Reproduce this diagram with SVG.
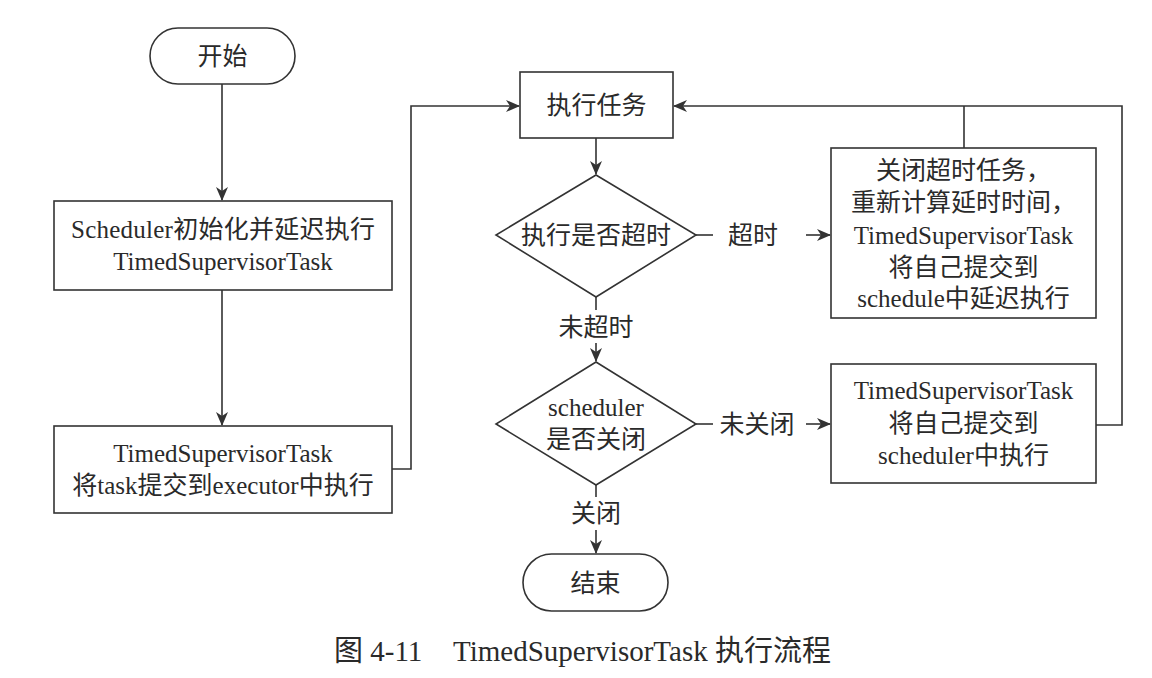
<svg xmlns="http://www.w3.org/2000/svg" width="1152" height="678" viewBox="0 0 1152 678">
  <style>
    .shape { fill: #ffffff; stroke: #333333; stroke-width: 1.6; }
    .line { fill: none; stroke: #333333; stroke-width: 1.6; }
    .t { font-family: "Liberation Serif", "Noto Sans CJK SC", serif; font-size: 25px; fill: #2a2a2a; text-anchor: middle; dominant-baseline: central; }
    .cap { font-family: "Liberation Serif", "Noto Sans CJK SC", serif; font-size: 29px; fill: #2a2a2a; dominant-baseline: central; }
  </style>
  <defs>
    <marker id="arr" viewBox="0 0 14 12" refX="13" refY="6" markerWidth="14" markerHeight="12" markerUnits="userSpaceOnUse" orient="auto">
      <path d="M0,0 L14,6 L0,12 L4,6 Z" fill="#333333"/>
    </marker>
  </defs>
  <rect x="0" y="0" width="1152" height="678" fill="#ffffff"/>

  <g id="connectors">
    <line class="line" x1="222" y1="84" x2="222" y2="200" marker-end="url(#arr)"/>
    <line class="line" x1="222" y1="290" x2="222" y2="425" marker-end="url(#arr)"/>
    <polyline class="line" points="392,469 411,469 411,106 519,106" marker-end="url(#arr)"/>
    <line class="line" x1="596" y1="138" x2="596" y2="174" marker-end="url(#arr)"/>
    <line class="line" x1="696" y1="235" x2="713" y2="235"/>
    <line class="line" x1="806" y1="235" x2="830" y2="235" marker-end="url(#arr)"/>
    <line class="line" x1="596" y1="297" x2="596" y2="310"/>
    <line class="line" x1="596" y1="343" x2="596" y2="361" marker-end="url(#arr)"/>
    <line class="line" x1="696" y1="424" x2="713" y2="424"/>
    <line class="line" x1="806" y1="424" x2="830" y2="424" marker-end="url(#arr)"/>
    <line class="line" x1="596" y1="485" x2="596" y2="497"/>
    <line class="line" x1="596" y1="530" x2="596" y2="553" marker-end="url(#arr)"/>
    <line class="line" x1="964" y1="148" x2="964" y2="106"/>
    <polyline class="line" points="1096,425 1122,425 1122,106 674,106" marker-end="url(#arr)"/>
    <text class="t" x="753" y="235">超时</text>
    <text class="t" x="596" y="327">未超时</text>
    <text class="t" x="757" y="424">未关闭</text>
    <text class="t" x="596" y="513">关闭</text>
  </g>

  <g id="start">
    <rect class="shape" x="150" y="28" width="145" height="56" rx="28" ry="28"/>
    <text class="t" x="222.5" y="56">开始</text>
  </g>

  <g id="init">
    <rect class="shape" x="54" y="201" width="338" height="89"/>
    <text class="t" x="223" y="229" textLength="304" lengthAdjust="spacing">Scheduler初始化并延迟执行</text>
    <text class="t" x="223" y="261">TimedSupervisorTask</text>
  </g>

  <g id="submit">
    <rect class="shape" x="54" y="426" width="338" height="87"/>
    <text class="t" x="223" y="453">TimedSupervisorTask</text>
    <text class="t" x="223" y="485">将task提交到executor中执行</text>
  </g>

  <g id="execute">
    <rect class="shape" x="520" y="72" width="153" height="66"/>
    <text class="t" x="596.5" y="105">执行任务</text>
  </g>

  <g id="timeout-check">
    <polygon class="shape" points="596,175 696,235 596,297 496,235"/>
    <text class="t" x="596" y="235">执行是否超时</text>
  </g>

  <g id="closed-check">
    <polygon class="shape" points="596,362 696,424 596,485 496,424"/>
    <text class="t" x="596" y="407">scheduler</text>
    <text class="t" x="596" y="439">是否关闭</text>
  </g>

  <g id="reschedule-timeout">
    <rect class="shape" x="831" y="148" width="265" height="170"/>
    <text class="t" x="963.5" y="170">关闭超时任务，</text>
    <text class="t" x="963.5" y="202">重新计算延时时间，</text>
    <text class="t" x="963.5" y="235">TimedSupervisorTask</text>
    <text class="t" x="963.5" y="267">将自己提交到</text>
    <text class="t" x="963.5" y="298">schedule中延迟执行</text>
  </g>

  <g id="resubmit">
    <rect class="shape" x="831" y="364" width="265" height="119"/>
    <text class="t" x="963.5" y="390">TimedSupervisorTask</text>
    <text class="t" x="963.5" y="423">将自己提交到</text>
    <text class="t" x="963.5" y="455">scheduler中执行</text>
  </g>

  <g id="end">
    <rect class="shape" x="523" y="554" width="145" height="57" rx="28.5" ry="28.5"/>
    <text class="t" x="595.5" y="583">结束</text>
  </g>

  <g id="caption">
    <text class="cap" x="334" y="651">图 4-11</text>
    <text class="cap" x="453" y="651">TimedSupervisorTask 执行流程</text>
  </g>
</svg>
